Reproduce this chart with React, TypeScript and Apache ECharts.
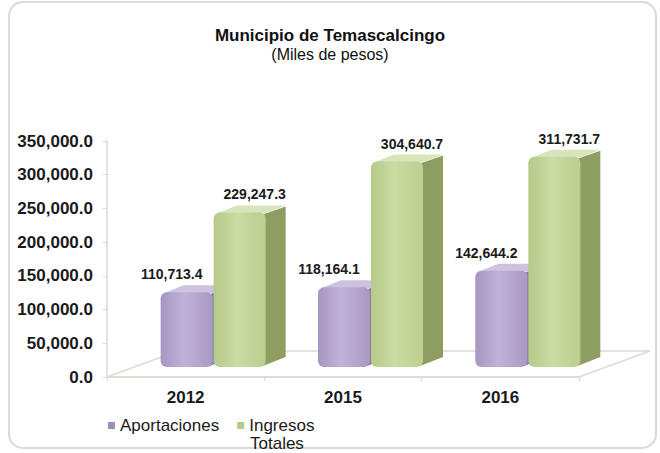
import { useEffect, useRef } from 'react';
import * as echarts from 'echarts';

const categories = ['2012', '2015', '2016'];
const aportaciones = [110713.4, 118164.1, 142644.2];
const ingresosTotales = [229247.3, 304640.7, 311731.7];
const seriesNames = ['Aportaciones', 'Ingresos Totales'];
const yMin = 0;
const yMax = 350000;
const yInterval = 50000;
const titleText = 'Municipio de Temascalcingo';
const subtitleText = '(Miles de pesos)';
const legendSecondLine = 'Totales';

const FONT = '"Liberation Sans", Arial, sans-serif';
const GRID = { left: 107, top: 141, width: 472, height: 236 };
const PLANE_DX = 29;
const PLANE_DY = 10;
const FLOOR_DX = 71;
const FLOOR_DY = 26;
const BAR_W = 52;
const SIDE_DX = 20;
const SIDE_DY = -8;

const fmt = (v: number) =>
  v.toLocaleString('en-US', { minimumFractionDigits: 1, maximumFractionDigits: 1 });

const palettes = [
  {
    legend: '#9d8cbd',
    front: ['#a696c2', '#bfb2d7', '#a898c4'],
    side: '#8c7da6',
    top: '#cdc3df',
  },
  {
    legend: '#b4cc84',
    front: ['#b6ca8a', '#cadca2', '#bbcf90'],
    side: '#8e9e63',
    top: '#d8e5ba',
  },
];

function makeRender(kind: number) {
  const pal = palettes[kind];
  return (params: any, api: any) => {
    const cat = api.value(0);
    const val = api.value(1);
    const base = api.coord([cat, 0]);
    const topPt = api.coord([cat, val]);
    const cx = base[0];
    const yBase = base[1];
    const yTop = topPt[1];
    const x0 = kind === 0 ? cx - 54 : cx - 1;
    const x1 = x0 + BAR_W;
    const labelX = (x0 + x1) / 2 + (kind === 0 ? -15 : 15);
    return {
      type: 'group',
      children: [
        {
          type: 'polygon',
          shape: {
            points: [
              [x1 - 3, yTop + 2],
              [x1 + SIDE_DX, yTop + SIDE_DY + 2],
              [x1 + SIDE_DX, yBase + SIDE_DY - 2],
              [x1 - 3, yBase - 1],
            ],
          },
          style: { fill: pal.side },
        },
        {
          type: 'polygon',
          shape: {
            points: [
              [x0 + 3, yTop + 1],
              [x1 - 1, yTop + 1],
              [x1 + SIDE_DX, yTop + SIDE_DY + 1],
              [x0 + SIDE_DX + 3, yTop + SIDE_DY + 1],
            ],
          },
          style: { fill: pal.top },
        },
        {
          type: 'rect',
          shape: { x: x0, y: yTop, width: BAR_W, height: yBase - yTop, r: 6 },
          style: {
            fill: new echarts.graphic.LinearGradient(0, 0, 1, 0, [
              { offset: 0, color: pal.front[0] },
              { offset: 0.45, color: pal.front[1] },
              { offset: 1, color: pal.front[2] },
            ]),
          },
        },
        {
          type: 'text',
          x: labelX,
          y: yTop + SIDE_DY - 3,
          style: {
            text: fmt(val),
            fontSize: 14,
            fontWeight: 'bold',
            fontFamily: FONT,
            fill: '#1a1a1a',
            align: 'center',
            verticalAlign: 'bottom',
            textAlign: 'center',
            textVerticalAlign: 'bottom',
          },
        },
      ],
    };
  };
}

const renderFloor = (params: any) => {
  const cs = params.coordSys;
  const yb = cs.y + cs.height;
  return {
    type: 'polygon',
    shape: {
      points: [
        [cs.x, yb],
        [cs.x + cs.width, yb],
        [cs.x + cs.width + FLOOR_DX, yb - FLOOR_DY],
        [cs.x + FLOOR_DX, yb - FLOOR_DY],
      ],
    },
    style: { fill: 'none', stroke: '#d9ddcf', lineWidth: 1.5 },
    silent: true,
  };
};

export default function App() {
  const ref = useRef<HTMLDivElement>(null);
  useEffect(() => {
    if (!ref.current) return;
    const chart = echarts.init(ref.current, null, { renderer: 'svg' });
    const option: any = {
      animation: false,
      backgroundColor: '#ffffff',
      title: {
        text: titleText,
        subtext: subtitleText,
        left: 'center',
        top: 28,
        padding: 0,
        itemGap: 2,
        textStyle: { fontSize: 17, fontWeight: 'bold', fontFamily: FONT, color: '#111', lineHeight: 15 },
        subtextStyle: { fontSize: 16, fontWeight: 'normal', fontFamily: FONT, color: '#111', lineHeight: 15 },
      },
      legend: {
        data: seriesNames,
        left: 108,
        top: 417,
        padding: 0,
        icon: 'rect',
        itemWidth: 7,
        itemHeight: 7,
        itemGap: 18,
        formatter: (name: string) => (name === 'Ingresos Totales' ? 'Ingresos' : name),
        textStyle: { fontSize: 17, fontFamily: FONT, color: '#1a1a1a', lineHeight: 16 },
      },
      graphic: [
        {
          type: 'rect',
          shape: { x: 9, y: 2, width: 647, height: 446, r: 14 },
          style: { fill: 'none', stroke: '#d9d9d9', lineWidth: 2 },
          silent: true,
          z: -10,
        },
        {
          type: 'text',
          left: 250,
          top: 435,
          style: { text: legendSecondLine, fontSize: 17, fontFamily: FONT, fill: '#1a1a1a', lineHeight: 15 },
        },
      ],
      grid: [
        { left: GRID.left, top: GRID.top, width: GRID.width, height: GRID.height },
        {
          left: GRID.left + PLANE_DX,
          top: GRID.top - PLANE_DY,
          width: GRID.width,
          height: GRID.height,
        },
      ],
      xAxis: [
        {
          gridIndex: 0,
          type: 'category',
          data: categories,
          axisLine: { lineStyle: { color: '#d9ddcf', width: 1.5 } },
          axisTick: { show: true, length: 4, lineStyle: { color: '#d9ddcf' } },
          axisLabel: { fontSize: 17, fontWeight: 'bold', fontFamily: FONT, color: '#1a1a1a', margin: 12 },
        },
        { gridIndex: 1, type: 'category', data: categories, show: false },
      ],
      yAxis: [
        {
          gridIndex: 0,
          type: 'value',
          min: yMin,
          max: yMax,
          interval: yInterval,
          axisLine: { show: true, lineStyle: { color: '#d9d9d9', width: 1.5 } },
          axisTick: { show: true, length: 4, lineStyle: { color: '#d9d9d9' } },
          splitLine: { show: false },
          axisLabel: {
            fontSize: 17,
            fontWeight: 'bold',
            fontFamily: FONT,
            color: '#1a1a1a',
            margin: 14,
            formatter: (v: number) => fmt(v),
          },
        },
        { gridIndex: 1, type: 'value', min: yMin, max: yMax, interval: yInterval, show: false },
      ],
      series: [
        {
          type: 'custom',
          name: 'floor',
          xAxisIndex: 0,
          yAxisIndex: 0,
          data: [[0, 0]],
          renderItem: renderFloor,
          silent: true,
          z: 1,
        },
        {
          type: 'custom',
          name: seriesNames[0],
          xAxisIndex: 1,
          yAxisIndex: 1,
          data: aportaciones.map((v, i) => [i, v]),
          encode: { x: 0, y: 1 },
          itemStyle: { color: palettes[0].legend },
          renderItem: makeRender(0),
          clip: false,
          z: 2,
        },
        {
          type: 'custom',
          name: seriesNames[1],
          xAxisIndex: 1,
          yAxisIndex: 1,
          data: ingresosTotales.map((v, i) => [i, v]),
          encode: { x: 0, y: 1 },
          itemStyle: { color: palettes[1].legend },
          renderItem: makeRender(1),
          clip: false,
          z: 3,
        },
      ],
    };
    chart.setOption(option);
    return () => chart.dispose();
  }, []);
  return (
    <div
      ref={ref}
      style={{ position: 'fixed', left: 0, top: 0, width: 660, height: 453, background: '#fff' }}
    />
  );
}
